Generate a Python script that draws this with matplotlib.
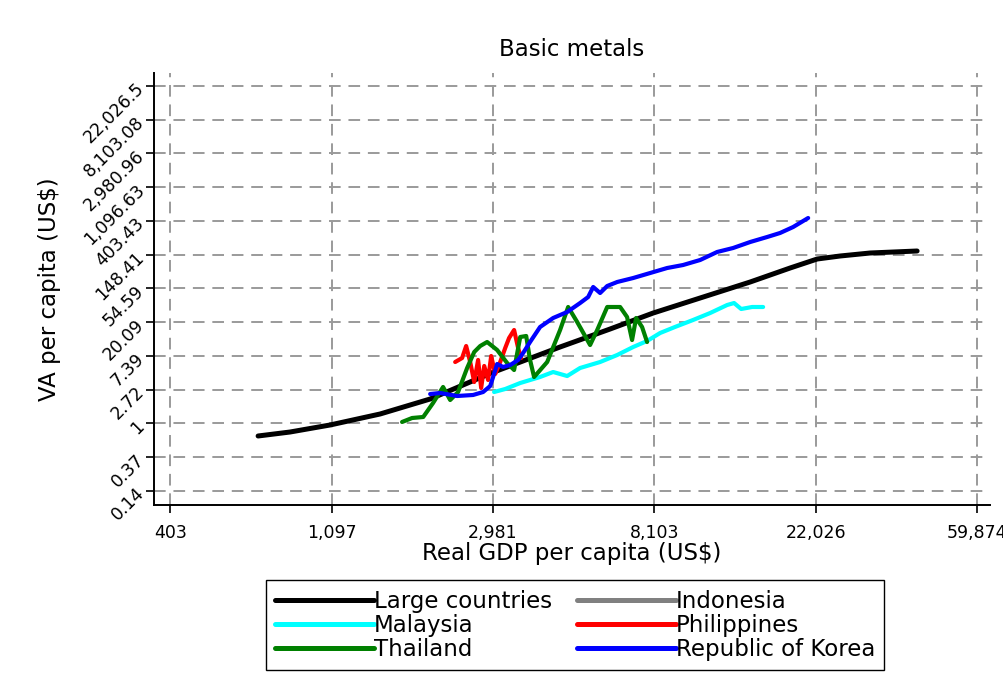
import numpy as np
import matplotlib
matplotlib.use("Agg")
import matplotlib.pyplot as plt

# ====================== DATA ======================
# values are natural logs, as in the original graph (axis labels show exp(value))
lc_lngdp = [6.545, 6.743, 6.991, 7.301, 7.611, 7.989, 8.416, 8.726, 8.993, 9.284, 9.594,
            9.841, 10.009, 10.151, 10.337, 10.628]
lc_lnva = [-0.376, -0.258, -0.050, 0.276, 0.720, 1.490, 2.261, 2.794, 3.268, 3.713, 4.187,
           4.601, 4.868, 4.957, 5.046, 5.105]

idn_lngdp = []
idn_lnva = []

mys_lngdp = [8.007, 8.076, 8.169, 8.292, 8.373, 8.460, 8.540, 8.664, 8.770, 8.869, 8.955, 9.036,
             9.129, 9.240, 9.346, 9.451, 9.494, 9.538, 9.606, 9.674]
mys_lnva = [0.927, 1.016, 1.194, 1.372, 1.520, 1.401, 1.639, 1.816, 2.024, 2.261, 2.439, 2.676,
            2.856, 3.061, 3.268, 3.505, 3.564, 3.387, 3.446, 3.446]

phl_lngdp = [7.766, 7.809, 7.834, 7.859, 7.884, 7.908, 7.927, 7.946, 7.970, 7.989, 8.014, 8.045,
             8.076, 8.100, 8.131, 8.156, 8.175]
phl_lnva = [1.816, 1.935, 2.290, 1.816, 1.224, 1.876, 1.046, 1.698, 1.283, 1.994, 1.461, 1.816,
            2.231, 2.527, 2.764, 2.231, 1.935]

tha_lngdp = [7.437, 7.499, 7.568, 7.629, 7.691, 7.735, 7.784, 7.840, 7.884, 7.921, 7.964, 8.026,
             8.088, 8.131, 8.169, 8.206, 8.230, 8.255, 8.336, 8.416, 8.466, 8.522, 8.602, 8.646,
             8.708, 8.788, 8.831, 8.862, 8.887, 8.924, 8.955]
tha_lnva = [0.039, 0.157, 0.187, 0.602, 1.076, 0.690, 0.927, 1.638, 2.113, 2.290, 2.409, 2.172,
            1.787, 1.579, 2.557, 2.587, 1.876, 1.372, 1.816, 2.764, 3.446, 3.001, 2.320, 2.764,
            3.446, 3.446, 3.150, 2.468, 3.120, 2.853, 2.409]

kor_lngdp = [7.611, 7.673, 7.778, 7.877, 7.939, 7.983, 8.001, 8.026, 8.063, 8.107, 8.156, 8.187,
             8.230, 8.292, 8.373, 8.460, 8.540, 8.590, 8.621, 8.664, 8.708, 8.770, 8.869, 8.974,
             9.079, 9.178, 9.284, 9.389, 9.488, 9.594, 9.699, 9.779, 9.860, 9.953]
kor_lnva = [0.868, 0.898, 0.809, 0.839, 0.927, 1.105, 1.372, 1.757, 1.668, 1.727, 1.876, 2.083,
            2.409, 2.853, 3.120, 3.298, 3.564, 3.742, 4.039, 3.861, 4.068, 4.187, 4.305, 4.453,
            4.601, 4.690, 4.839, 5.076, 5.194, 5.372, 5.520, 5.639, 5.816, 6.083]

x_ticks = [6, 7, 8, 9, 10, 11]
x_labels = ["403", "1,097", "2,981", "8,103", "22,026", "59,874"]
y_ticks = list(range(-2, 11))
y_labels = ["0.14", "0.37", "1", "2.72", "7.39", "20.09", "54.59", "148.41",
            "403.43", "1,096.63", "2,980.96", "8,103.08", "22,026.5"]
# ===================================================

series = [
    ("Large countries", lc_lngdp, lc_lnva, "black", 3.6),
    ("Indonesia", idn_lngdp, idn_lnva, "#808080", 3.0),
    ("Malaysia", mys_lngdp, mys_lnva, "cyan", 3.0),
    ("Philippines", phl_lngdp, phl_lnva, "red", 3.0),
    ("Thailand", tha_lngdp, tha_lnva, "green", 3.0),
    ("Republic of Korea", kor_lngdp, kor_lnva, "blue", 3.0),
]

fig = plt.figure(figsize=(10.04, 6.97), dpi=100)
ax = fig.add_axes([0.1534, 0.2755, 0.8327, 0.6198])

handles = {}
for name, xs, ys, col, lw in series:
    ln, = ax.plot(xs, ys, color=col, lw=lw, label=name, solid_capstyle="round",
                  solid_joinstyle="round")
    handles[name] = ln

ax.set_xlim(5.90, 11.08)
ax.set_ylim(-2.42, 10.38)

ax.set_xticks(x_ticks)
ax.set_xticklabels(x_labels, fontsize=12.5)
ax.set_yticks(y_ticks)
ax.set_yticklabels(y_labels, fontsize=12.5, rotation=45, ha="right", va="center",
                   rotation_mode="anchor")

ax.grid(True, color="#9a9a9a", linestyle=(0, (6, 4)), linewidth=1.4)
ax.set_axisbelow(True)
ax.spines["top"].set_visible(False)
ax.spines["right"].set_visible(False)
ax.spines["left"].set_linewidth(1.4)
ax.spines["bottom"].set_linewidth(1.4)
ax.tick_params(direction="out", length=6, width=1.2)
ax.tick_params(axis="x", pad=8)
ax.tick_params(axis="y", pad=3)

ax.set_title("Basic metals", fontsize=16.5, pad=12)
ax.set_xlabel("Real GDP per capita (US$)", fontsize=16.5, labelpad=0)
ax.set_ylabel("VA per capita (US$)", fontsize=16.5, labelpad=14)

# legend filled row by row, like the original
order = ["Large countries", "Malaysia", "Thailand", "Indonesia", "Philippines", "Republic of Korea"]
leg = fig.legend([handles[n] for n in order], order, loc="center",
                 bbox_to_anchor=(0.573, 0.103), ncol=2, fontsize=16.5,
                 frameon=True, fancybox=False, edgecolor="black", framealpha=1,
                 handlelength=4.3, handletextpad=0.0, labelspacing=0.05,
                 columnspacing=1.1, borderpad=0.4, borderaxespad=0)
leg.get_frame().set_linewidth(1.0)
for line in leg.get_lines():
    line.set_linewidth(3.6)

plt.savefig("out.png", dpi=100)
